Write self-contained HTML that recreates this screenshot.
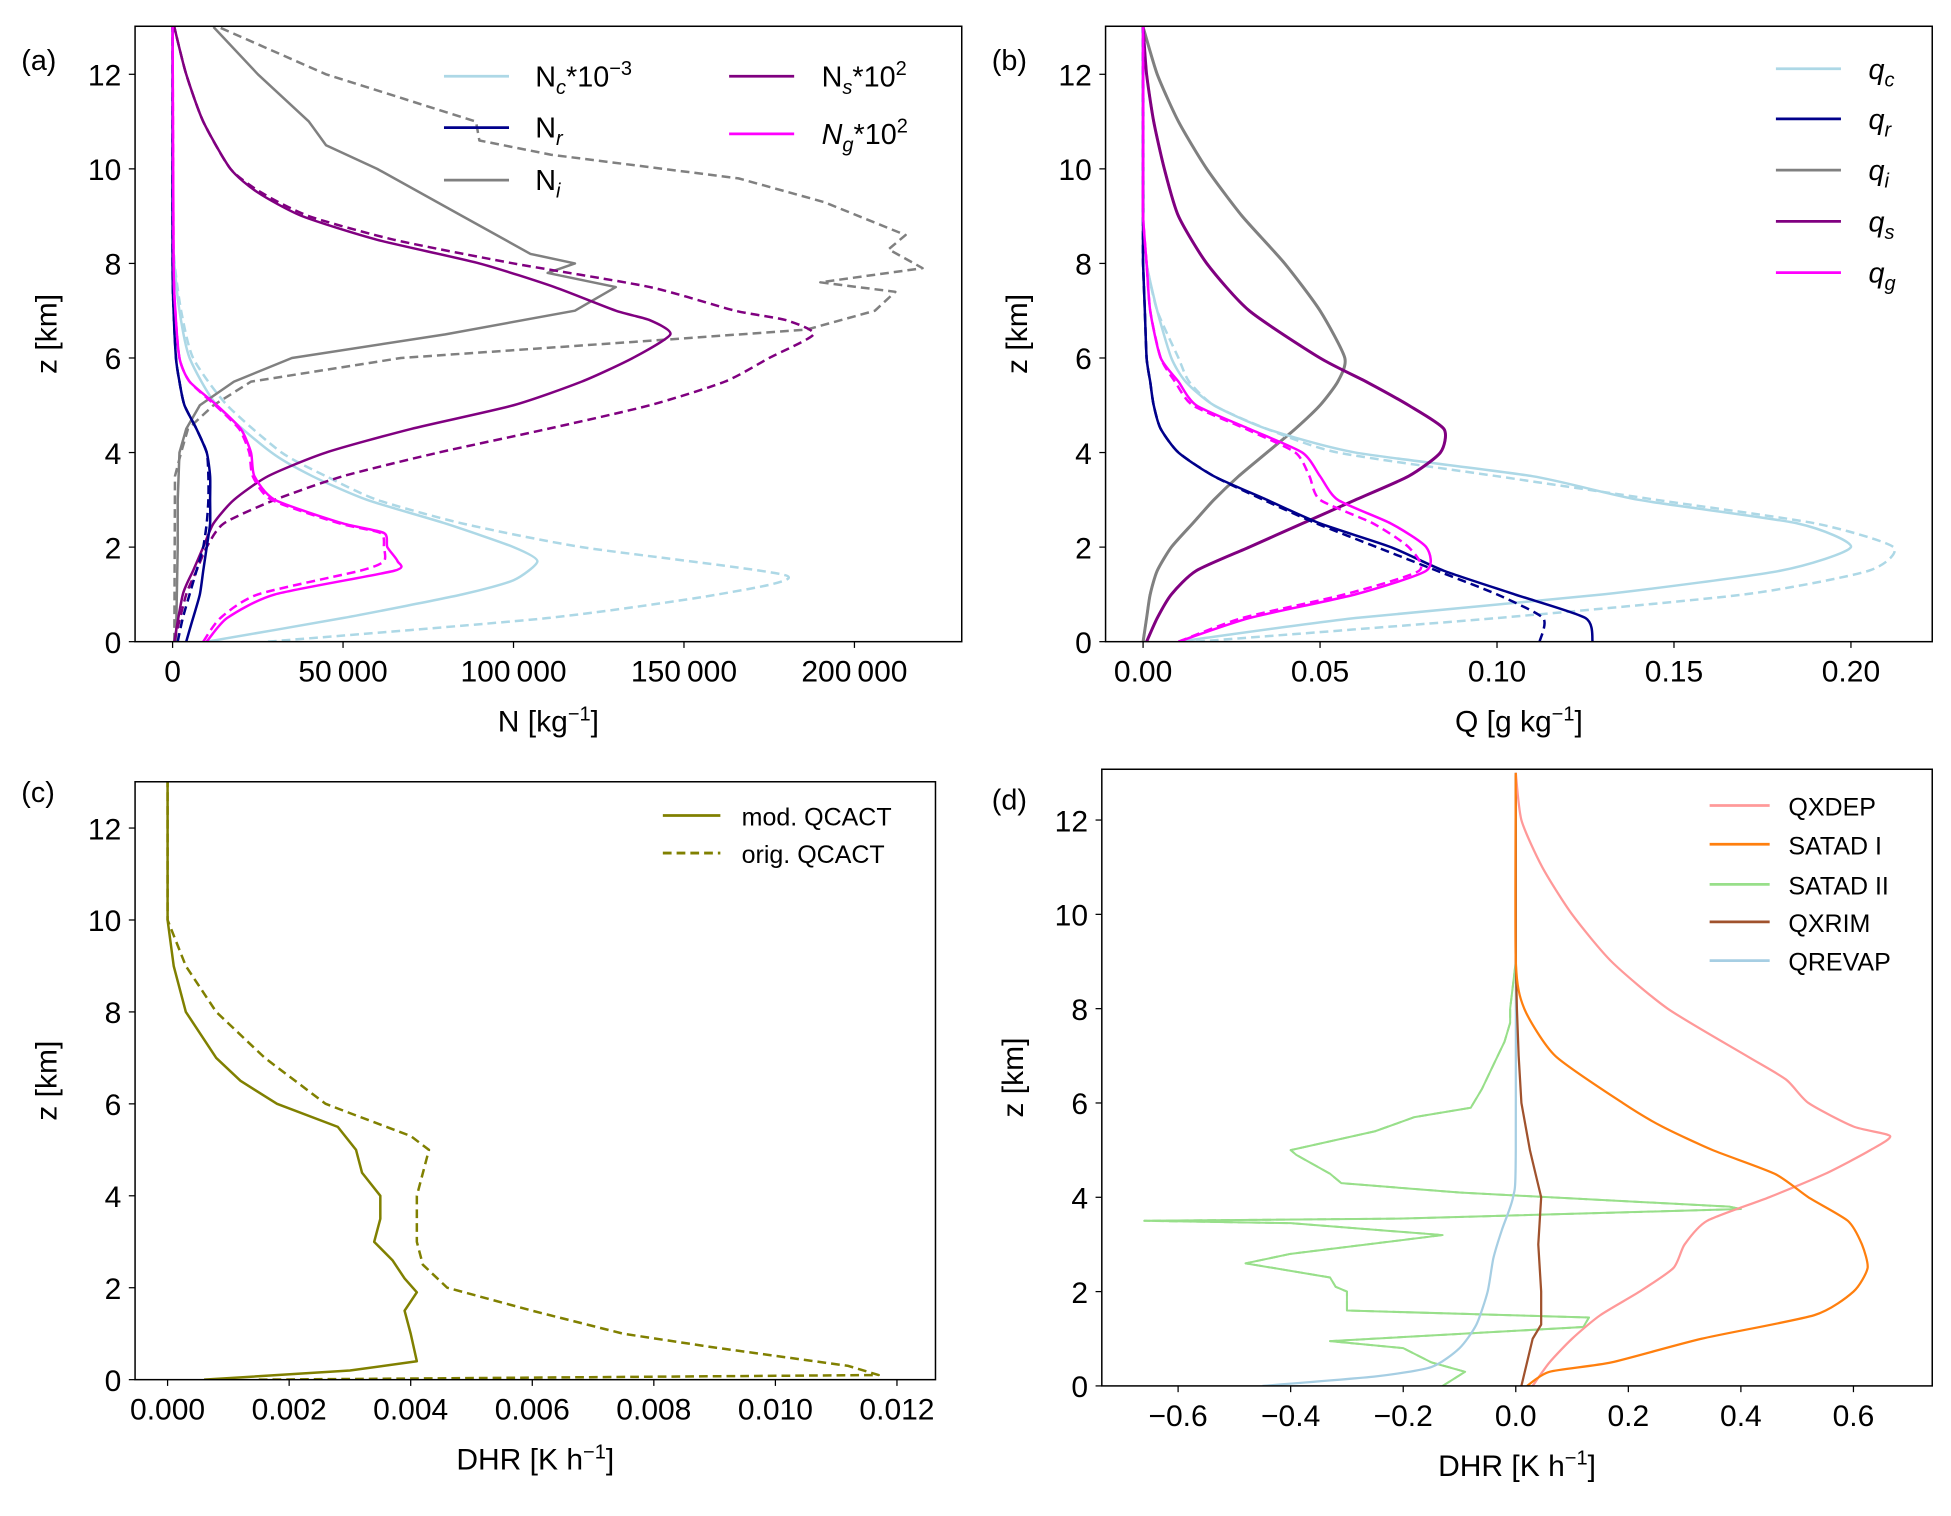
<!DOCTYPE html>
<html><head><meta charset="utf-8"><title>Microphysics profiles</title>
<style>
html,body{margin:0;padding:0;background:#fff;}
svg{display:block;}
text{font-family:"Liberation Sans","DejaVu Sans",sans-serif;fill:#000;}
</style></head>
<body>
<svg id="fig" width="1951" height="1516" viewBox="0 0 1560 1212" preserveAspectRatio="none" xmlns="http://www.w3.org/2000/svg"></svg>
<script>
// ---------- Panel (a) data: number concentrations ----------
const aNcZ  = [0,0.5,1,1.3,1.7,2,2.5,3,3.5,4,5,6,7,8,9,13];
const aNcS  = [10000,50000,85000,100000,107000,100000,80000,57000,41000,29000,13000,5000,2000,500,0,0];
const aNcDZ = [0,0.5,1,1.4,2,2.5,3,3.5,4,5,6,7,8,9,13];
const aNcD  = [28000,110000,160000,180000,120000,85000,60000,45000,32000,16000,6000,2500,600,0,0];
const aNrZ  = [0,0.5,1,1.5,2,2.5,3,3.5,4,4.5,5,5.5,6,7,8,13];
const aNrS  = [4000,6000,8000,9000,10000,11000,11000,11000,10000,7000,3500,2000,1000,300,0,0];
const aNrD  = [1500,3000,5000,7000,9000,10000,10500,10500,10000,7000,3500,2000,1000,300,0,0];
const aNiZ  = [0,2,3,4,4.5,5,5.5,6,6.5,7,7.5,7.8,8,8.2,9,10,10.5,11,12,13];
const aNiS  = [1000,1500,1500,2000,4000,8000,18000,35000,80000,118000,130000,110000,118000,105000,85000,60000,45000,40000,25000,12000];
const aNiDZ = [0,3.5,4,4.5,5,5.5,6,6.4,6.6,7,7.4,7.6,7.9,8.3,8.6,9.3,9.8,10.3,10.6,11,12,13];
const aNiD  = [500,700,2500,4500,12000,23000,67000,147000,186000,206000,212000,190000,220000,210000,215000,191000,166000,111000,90000,89000,45000,13500];
const aNsZ  = [0,1,1.5,2,2.5,3,3.5,4,4.5,5,5.5,6,6.5,6.8,7,7.5,8,8.5,9,9.5,10,11,12,13];
const aNsS  = [500,3000,6000,9000,12000,18000,28000,45000,70000,100000,120000,135000,146000,140000,130000,112000,90000,60000,38000,25000,17000,9000,4000,500];
const aNsD  = [500,4000,7000,10000,15000,30000,50000,78000,110000,140000,162000,175000,188000,180000,165000,140000,100000,65000,40000,26000,17000,9000,4000,500];
const aNgZ  = [0,0.5,1,1.5,1.7,2,2.3,2.5,3,3.5,4,4.5,5,5.5,6,7,8,13];
const aNgS  = [10000,16000,30000,65000,66000,63000,62000,50000,30000,24000,23000,20000,13000,5000,2000,800,300,0];
const aNgD  = [9000,14000,25000,55000,62000,62000,61000,49000,29000,23500,22500,19500,12500,5000,2000,800,300,0];

// ---------- Panel (b) data: mixing ratios ----------
const bZ   = [0,0.5,1,1.5,2,2.5,3,3.5,4,4.5,5,5.5,6,7,8,9,10,11,12,13];
const bQcS = [0.01,0.06,0.13,0.18,0.2,0.185,0.14,0.11,0.06,0.035,0.02,0.012,0.008,0.004,0.001,0,0,0,0,0];
const bQcD = [0.015,0.10,0.17,0.205,0.212,0.19,0.145,0.10,0.055,0.035,0.02,0.013,0.01,0.004,0.001,0,0,0,0,0];
const bQrS = [0.127,0.125,0.105,0.085,0.07,0.05,0.035,0.02,0.01,0.005,0.003,0.002,0.001,0.0005,0,0,0,0,0,0];
const bQrD = [0.112,0.113,0.1,0.083,0.066,0.049,0.034,0.02,0.01,0.005,0.003,0.002,0.001,0.0005,0,0,0,0,0,0];
const bQiS = [0,0.001,0.002,0.004,0.008,0.014,0.02,0.027,0.035,0.043,0.05,0.055,0.057,0.05,0.04,0.028,0.018,0.01,0.004,0];
const bQsS = [0.001,0.004,0.008,0.015,0.03,0.045,0.06,0.075,0.084,0.085,0.075,0.063,0.05,0.03,0.018,0.01,0.006,0.003,0.001,0];
const bQgS = [0.01,0.03,0.06,0.08,0.08,0.07,0.055,0.05,0.045,0.03,0.015,0.01,0.005,0.002,0.001,0,0,0,0,0];
const bQgD = [0.01,0.028,0.057,0.078,0.075,0.065,0.05,0.047,0.043,0.029,0.014,0.009,0.005,0.002,0.001,0,0,0,0,0];

// ---------- Panel (c) data ----------
const cZS = [0,0.2,0.4,1,1.5,1.9,2.2,2.6,3,3.5,4,4.5,5,5.5,6,6.5,7,8,9,10,13];
const cS  = [0.0006,0.003,0.0041,0.004,0.0039,0.0041,0.0039,0.0037,0.0034,0.0035,0.0035,0.0032,0.0031,0.0028,0.0018,0.0012,0.0008,0.0003,0.0001,0,0];
const cZD = [0,0.1,0.3,0.7,1,1.5,2,2.5,3,3.5,4,5,5.3,5.8,6,7,8,9,10,13];
const cD  = [0.0015,0.0117,0.0112,0.009,0.0075,0.006,0.0046,0.0042,0.0041,0.0041,0.0041,0.0043,0.004,0.003,0.0026,0.0016,0.0008,0.0003,0,0];

// ---------- Panel (d) data ----------
const dZ1    = [0,0.5,1,1.5,2,2.5,3,3.5,4,4.5,5,5.3,5.5,6,6.5,7,8,9,10,11,12,13];
const dQxdep = [0.03,0.06,0.1,0.15,0.22,0.28,0.3,0.34,0.45,0.55,0.63,0.665,0.6,0.52,0.48,0.41,0.27,0.17,0.1,0.047,0.01,0];
const dZ2    = [0,0.3,0.5,1,1.5,2,2.5,3,3.5,4,4.5,5,5.5,6,7,8,9,13];
const dSatI  = [0.02,0.06,0.17,0.33,0.53,0.6,0.625,0.615,0.59,0.52,0.46,0.35,0.26,0.19,0.07,0.015,0,0];
const dZ3    = [0,0.3,0.5,0.8,0.95,1.25,1.45,1.6,1.7,2.0,2.1,2.3,2.6,2.8,3.2,3.45,3.5,3.55,3.75,3.8,4.1,4.3,4.5,4.9,5.0,5.4,5.7,5.9,6.3,6.8,7.3,7.7,8,9,13];
const dSatII = [-0.13,-0.09,-0.15,-0.2,-0.33,0.12,0.13,-0.3,-0.3,-0.3,-0.32,-0.33,-0.48,-0.4,-0.13,-0.4,-0.66,-0.2,0.4,0.38,-0.1,-0.31,-0.33,-0.39,-0.4,-0.25,-0.18,-0.08,-0.06,-0.04,-0.02,-0.01,-0.01,0,0];
const dZ4    = [0,0.5,1,1.3,2,3,4,4.5,5,6,7,8,9,13];
const dQxrim = [0.01,0.02,0.03,0.045,0.045,0.04,0.045,0.035,0.025,0.01,0.005,0.002,0,0];
const dZ5    = [0,0.2,0.4,0.8,1.3,2,2.7,3.3,4,5,13];
const dQrev  = [-0.45,-0.25,-0.15,-0.1,-0.07,-0.05,-0.04,-0.025,-0.005,0,0];

// ---------- Tick labels ----------
const aXticks = [0,50000,100000,150000,200000];
const aXlabels = ["0","50\u2009000","100\u2009000","150\u2009000","200\u2009000"];
const bXticks = [0,0.05,0.1,0.15,0.2];
const bXlabels = ["0.00","0.05","0.10","0.15","0.20"];
const cXticks = [0,0.002,0.004,0.006,0.008,0.01,0.012];
const cXlabels = ["0.000","0.002","0.004","0.006","0.008","0.010","0.012"];
const dXticks = [-0.6,-0.4,-0.2,0,0.2,0.4,0.6];
const dXlabels = ["\u22120.6","\u22120.4","\u22120.2","0.0","0.2","0.4","0.6"];
const zTicks = [0,2,4,6,8,10,12];

const NS="http://www.w3.org/2000/svg";
const svg=document.getElementById('fig');
function el(tag,attrs,parent){const e=document.createElementNS(NS,tag);for(const k in attrs)e.setAttribute(k,attrs[k]);(parent||svg).appendChild(e);return e;}

function smoothPath(P){
  let d='M'+P[0][0].toFixed(1)+','+P[0][1].toFixed(1);
  for(let i=0;i<P.length-1;i++){
    const p0=P[Math.max(0,i-1)],p1=P[i],p2=P[i+1],p3=P[Math.min(P.length-1,i+2)];
    const c1=[p1[0]+(p2[0]-p0[0])/9,p1[1]+(p2[1]-p0[1])/9];
    const c2=[p2[0]-(p3[0]-p1[0])/9,p2[1]-(p3[1]-p1[1])/9];
    d+=' C'+c1[0].toFixed(1)+','+c1[1].toFixed(1)+' '+c2[0].toFixed(1)+','+c2[1].toFixed(1)+' '+p2[0].toFixed(1)+','+p2[1].toFixed(1);
  }
  return d;
}

function makePanel(p){
  const g=el('g',{});
  
  
  const xs=v=>p.x0v+(v-p.v0)*p.kx;
  const ys=z=>p.yb-z*p.kz;
  const clip='clip-'+p.name;
  const cp=el('clipPath',{id:clip},g);el('rect',{x:p.x0,y:p.y0,width:p.x1-p.x0,height:p.y1-p.y0},cp);
  p.series.forEach(s=>{
    const P=s.z.map((z,i)=>[xs(s.v[i]),ys(z)]);
    let pl;
    if(s.j){
      pl=el('polyline',{points:P.map(q=>q[0].toFixed(1)+','+q[1].toFixed(1)).join(' '),fill:'none',stroke:s.c,'stroke-width':s.w||2,'clip-path':'url(#'+clip+')','stroke-linejoin':'round'},g);
    } else {
      pl=el('path',{d:smoothPath(P),fill:'none',stroke:s.c,'stroke-width':s.w||2,'clip-path':'url(#'+clip+')','stroke-linejoin':'round'},g);
    }
    if(s.d) pl.setAttribute('stroke-dasharray','7,4');
    
    
  });
  const fr=el('rect',{x:p.x0,y:p.y0,width:p.x1-p.x0,height:p.y1-p.y0,fill:'none',stroke:'#000','stroke-width':1.2},g);
  
  
  p.xt.forEach((v,i)=>{
    const x=xs(v);
    el('line',{x1:x,x2:x,y1:p.y1,y2:p.y1+5,stroke:'#000','stroke-width':1},g);
    const t=el('text',{x:x,y:p.y1+32,'font-size':24,'text-anchor':'middle'},g);
    t.textContent=p.xl[i];
    
    
  });
  zTicks.forEach(z=>{
    const y=ys(z);
    el('line',{x1:p.x0-5,x2:p.x0,y1:y,y2:y,stroke:'#000','stroke-width':1},g);
    const t=el('text',{x:p.x0-11,y:y+9,'font-size':24,'text-anchor':'end'},g);
    t.textContent=String(z);
    
    
  });
  const yt=el('text',{x:0,y:0,'font-size':24,'text-anchor':'middle',transform:'translate('+(p.x0-63)+','+((p.y0+p.y1)/2)+') rotate(-90)'},g);
  yt.textContent='z [km]';
  
  
  const xt=el('text',{x:(p.x0+p.x1)/2,y:p.y1+72,'font-size':24,'text-anchor':'middle'},g);
  xt.innerHTML=p.xtitle;
  
  
  const lb=el('text',{x:p.lx,y:p.ly,'font-size':23},g);
  lb.textContent=p.label;
  
  
  p.legend.forEach(L=>{
    const lg=el('g',{},g);
    
    
    const ln=el('line',{x1:L.x,x2:L.x+L.len,y1:L.y,y2:L.y,stroke:L.c,'stroke-width':2.2},lg);
    if(L.d) ln.setAttribute('stroke-dasharray','7,4');
    const t=el('text',{x:L.x+L.len+L.gap,y:L.y+8,'font-size':L.fs||23},lg);
    t.innerHTML=L.t;
  });
}

const LB='#add8e6',NV='#00008b',GR='#808080',PU='#800080',MG='#ff00ff';
const sub=s=>'<tspan dy="6" font-size="16" font-style="italic">'+s+'</tspan>';
makePanel({name:'panel-a',x0:108,x1:769,y0:21,y1:513,x0v:138,v0:0,kx:136.3/50000,yb:513,kz:37.8,
  xt:aXticks,xl:aXlabels,xtitle:'N [kg<tspan dy="-9" font-size="16">\u22121</tspan><tspan dy="9">]</tspan>',label:'(a)',lx:17,ly:56,
  series:[
    {n:'nc-orig',z:aNcDZ,v:aNcD,c:LB,d:1},{n:'nc-mod',z:aNcZ,v:aNcS,c:LB},
    {n:'ni-orig',z:aNiDZ,v:aNiD,c:GR,d:1,j:1},{n:'ni-mod',z:aNiZ,v:aNiS,c:GR,j:1},
    {n:'ns-orig',z:aNsZ,v:aNsD,c:PU,d:1},{n:'ns-mod',z:aNsZ,v:aNsS,c:PU},
    {n:'nr-orig',z:aNrZ,v:aNrD,c:NV,d:1},{n:'nr-mod',z:aNrZ,v:aNrS,c:NV},
    {n:'ng-orig',z:aNgZ,v:aNgD,c:MG,d:1},{n:'ng-mod',z:aNgZ,v:aNgS,c:MG}],
  legend:[
    {x:355,len:52,gap:21,y:61,c:LB,t:'N'+sub('c')+'<tspan dy="-6">*10</tspan><tspan dy="-9" font-size="16">\u22123</tspan>'},
    {x:355,len:52,gap:21,y:102,c:NV,t:'N'+sub('r')},
    {x:355,len:52,gap:21,y:144,c:GR,t:'N'+sub('i')},
    {x:583,len:52,gap:22,y:61,c:PU,t:'N'+sub('s')+'<tspan dy="-6">*10</tspan><tspan dy="-9" font-size="16">2</tspan>'},
    {x:583,len:52,gap:22,y:107,c:MG,t:'<tspan font-style="italic">N</tspan>'+sub('g')+'<tspan dy="-6">*10</tspan><tspan dy="-9" font-size="16">2</tspan>'}]
});
const q=s=>'<tspan font-style="italic">q</tspan>'+sub(s);
makePanel({name:'panel-b',x0:884,x1:1545,y0:21,y1:513,x0v:914,v0:0,kx:141.5/0.05,yb:513,kz:37.8,
  xt:bXticks,xl:bXlabels,xtitle:'Q [g kg<tspan dy="-9" font-size="16">\u22121</tspan><tspan dy="9">]</tspan>',label:'(b)',lx:793,ly:56,
  series:[
    {n:'qi',z:bZ,v:bQiS,c:GR,w:2.4},{n:'qi-orig',z:bZ,v:bQiS,c:GR,d:1},
    {n:'qc-orig',z:bZ,v:bQcD,c:LB,d:1},{n:'qc-mod',z:bZ,v:bQcS,c:LB},
    {n:'qs',z:bZ,v:bQsS,c:PU,w:2.4},{n:'qs-orig',z:bZ,v:bQsS,c:PU,d:1},
    {n:'qr-orig',z:bZ,v:bQrD,c:NV,d:1},{n:'qr-mod',z:bZ,v:bQrS,c:NV},
    {n:'qg-orig',z:bZ,v:bQgD,c:MG,d:1},{n:'qg-mod',z:bZ,v:bQgS,c:MG}],
  legend:[
    {x:1420,len:52,gap:22,y:55,c:LB,t:q('c')},
    {x:1420,len:52,gap:22,y:95,c:NV,t:q('r')},
    {x:1420,len:52,gap:22,y:136,c:GR,t:q('i')},
    {x:1420,len:52,gap:22,y:177,c:PU,t:q('s')},
    {x:1420,len:52,gap:22,y:218,c:MG,t:q('g')}]
});
const OL='#808000';
makePanel({name:'panel-c',x0:108,x1:748,y0:625,y1:1103,x0v:134,v0:0,kx:97.2/0.002,yb:1103,kz:36.75,
  xt:cXticks,xl:cXlabels,xtitle:'DHR [K h<tspan dy="-9" font-size="16">\u22121</tspan><tspan dy="9">]</tspan>',label:'(c)',lx:17,ly:641,
  series:[{n:'orig-qcact',z:cZD,v:cD,c:OL,d:1,j:1},{n:'mod-qcact',z:cZS,v:cS,c:OL,j:1}],
  legend:[
    {x:530,len:46,gap:17,y:652,c:OL,t:'mod. QCACT',fs:20},
    {x:530,len:46,gap:17,y:682,c:OL,d:1,t:'orig. QCACT',fs:20}]
});
const PK='#ff9999',OR='#ff7f0e',LG='#98df8a',BR='#a0522d',SB='#a6cee3';
makePanel({name:'panel-d',x0:881,x1:1545,y0:615,y1:1108,x0v:1212,v0:0,kx:90/0.2,yb:1108,kz:37.7,
  xt:dXticks,xl:dXlabels,xtitle:'DHR [K h<tspan dy="-9" font-size="16">\u22121</tspan><tspan dy="9">]</tspan>',label:'(d)',lx:793,ly:647,
  series:[
    {n:'satad-ii-orig',z:dZ3,v:dSatII,c:LG,d:1,w:1.6,j:1},{n:'satad-ii',z:dZ3,v:dSatII,c:LG,w:1.6,j:1},
    {n:'qrevap',z:dZ5,v:dQrev,c:SB,w:1.8},
    {n:'qxrim',z:dZ4,v:dQxrim,c:BR,w:1.8,j:1},
    {n:'qxdep',z:dZ1,v:dQxdep,c:PK,w:1.8},
    {n:'satad-i',z:dZ2,v:dSatI,c:OR,w:1.8}],
  legend:[
    {x:1367,len:48,gap:15,y:644,c:PK,t:'QXDEP',fs:20},
    {x:1367,len:48,gap:15,y:675,c:OR,t:'SATAD I',fs:20},
    {x:1367,len:48,gap:15,y:707,c:LG,t:'SATAD II',fs:20},
    {x:1367,len:48,gap:15,y:737,c:BR,t:'QXRIM',fs:20},
    {x:1367,len:48,gap:15,y:768,c:SB,t:'QREVAP',fs:20}]
});
</script>
</body></html>
